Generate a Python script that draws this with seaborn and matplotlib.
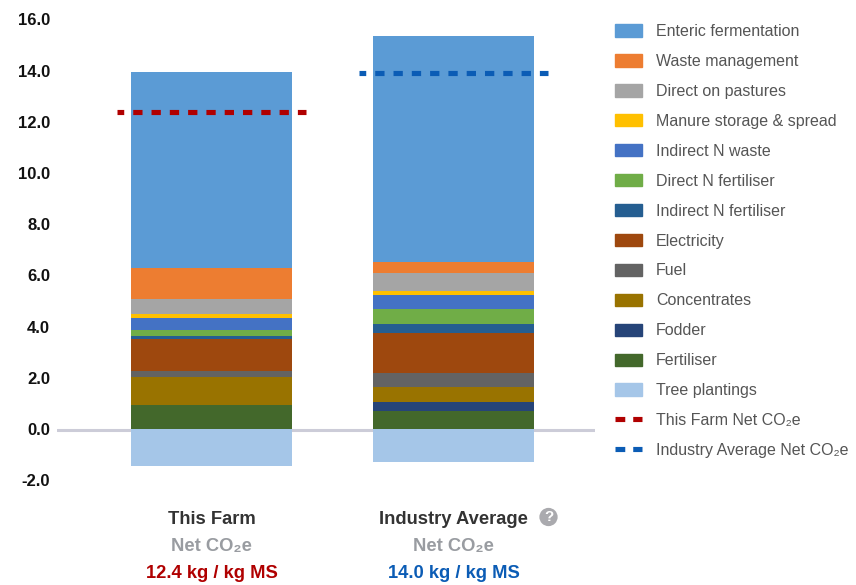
import matplotlib
matplotlib.use("Agg")
import matplotlib.pyplot as plt
import pandas as pd
import seaborn as sns
from matplotlib.lines import Line2D
from matplotlib.patches import Patch
from matplotlib.transforms import ScaledTranslation, blended_transform_factory

scenarios = ["This Farm", "Industry Average"]
# stacking order: bottom to top
sources = ["Fertiliser", "Fodder", "Concentrates", "Fuel", "Electricity",
           "Indirect N fertiliser", "Direct N fertiliser", "Indirect N waste",
           "Manure storage & spread", "Direct on pastures", "Waste management",
           "Enteric fermentation"]
this_farm = [0.90, 0.00, 1.13, 0.21, 1.24, 0.14, 0.21, 0.49, 0.16, 0.57, 1.21, 7.65]
industry = [0.68, 0.34, 0.59, 0.55, 1.56, 0.36, 0.59, 0.54, 0.17, 0.68, 0.43, 8.84]
colors = ["#43682b", "#264478", "#997300", "#636363", "#9e480e", "#255e91",
          "#70ad47", "#4472c4", "#ffc000", "#a5a5a5", "#ed7d31", "#5b9bd5"]
tree_label = "Tree plantings"
tree_values = [-1.46, -1.32]
tree_color = "#a5c6e8"
net_markers = [12.35, 13.88]
net_labels = ["12.4 kg / kg MS", "14.0 kg / kg MS"]
net_colors = ["#b00000", "#0b5cb5"]
net_series = ["This Farm Net CO₂e", "Industry Average Net CO₂e"]
yticks = [-2, 0, 2, 4, 6, 8, 10, 12, 14, 16]

W, H = 856, 585
sns.set_theme(style="white")
plt.rcParams["font.family"] = ["Liberation Sans", "DejaVu Sans"]

fig = plt.figure(figsize=(W / 100, H / 100), dpi=100)
ax_top, ax_bottom, ax_left, ax_right = 18.9, 479.7, 57, 595
ax = fig.add_axes([ax_left / W, 1 - ax_bottom / H,
                   (ax_right - ax_left) / W, (ax_bottom - ax_top) / H])

bottoms = [0.0, 0.0]
for name, a, b, c in zip(sources, this_farm, industry, colors):
    df = pd.DataFrame({"scenario": scenarios, "value": [a, b]})
    sns.barplot(data=df, x="scenario", y="value", order=scenarios, color=c,
                saturation=1, width=0.665, errorbar=None, ax=ax,
                bottom=list(bottoms), linewidth=0, zorder=3)
    bottoms = [bottoms[0] + a, bottoms[1] + b]
df = pd.DataFrame({"scenario": scenarios, "value": tree_values})
sns.barplot(data=df, x="scenario", y="value", order=scenarios, color=tree_color,
            saturation=1, width=0.665, errorbar=None, ax=ax, linewidth=0, zorder=3)

ax.axhline(-0.07, color="#ccccd8", lw=2.2, zorder=1)

dash = (0.5, (1.81, 1.75))
for i, (v, c) in enumerate(zip(net_markers, net_colors)):
    ax.plot([i - 0.39, i + 0.39], [v, v], color=c, lw=3.7,
            linestyle=dash, dash_capstyle="butt", zorder=5)

ax.set_xlim(-0.639, 1.584)
ax.set_ylim(-2, 16)
ax.set_yticks(yticks)
ax.set_yticklabels([f"{t:.1f}" for t in yticks], fontsize=12, fontweight="bold", color="#111111")
ax.tick_params(axis="y", length=0, pad=5)
nudge = ScaledTranslation(0, -0.5 / 100, fig.dpi_scale_trans)
for lab in ax.get_yticklabels():
    lab.set_transform(lab.get_transform() + nudge)
ax.set_xticks([])
ax.set_xlabel("")
ax.set_ylabel("")
for s in ax.spines.values():
    s.set_visible(False)
ax.patch.set_alpha(0)

tr = blended_transform_factory(ax.transData, fig.transFigure)
for i, name in enumerate(scenarios):
    ax.text(i, 1 - 519 / H, name, transform=tr, ha="center", va="center",
            fontsize=13.2, fontweight="bold", color="#333333", clip_on=False)
    ax.text(i, 1 - 546 / H, "Net CO₂e", transform=tr, ha="center", va="center",
            fontsize=13.2, fontweight="bold", color="#999ca1", clip_on=False)
    ax.text(i, 1 - 573 / H, net_labels[i], transform=tr, ha="center", va="center",
            fontsize=13.2, fontweight="bold", color=net_colors[i], clip_on=False)
fig.text(548.5 / W, 1 - 517 / H, "?", ha="center", va="center", fontsize=11,
         fontweight="bold", color="white",
         bbox=dict(boxstyle="circle,pad=0.14", fc="#aaaaae", ec="none"))

handles = [Patch(color=c, label=n) for n, c in zip(sources[::-1], colors[::-1])]
handles.append(Patch(color=tree_color, label=tree_label))
for n, c in zip(net_series, net_colors):
    handles.append(Line2D([], [], color=c, lw=3.7, linestyle=(0, (1.9, 1.55)),
                          dash_capstyle="butt", label=n))
fig.legend(handles=handles, loc="upper left",
           bbox_to_anchor=(615 / W, 1 - 24 / H), frameon=False, fontsize=11.5,
           labelcolor="#555555", borderpad=0, borderaxespad=0, handlelength=1.69,
           handleheight=0.82, handletextpad=0.88, labelspacing=0.935)

fig.savefig("out.png", dpi=100)
